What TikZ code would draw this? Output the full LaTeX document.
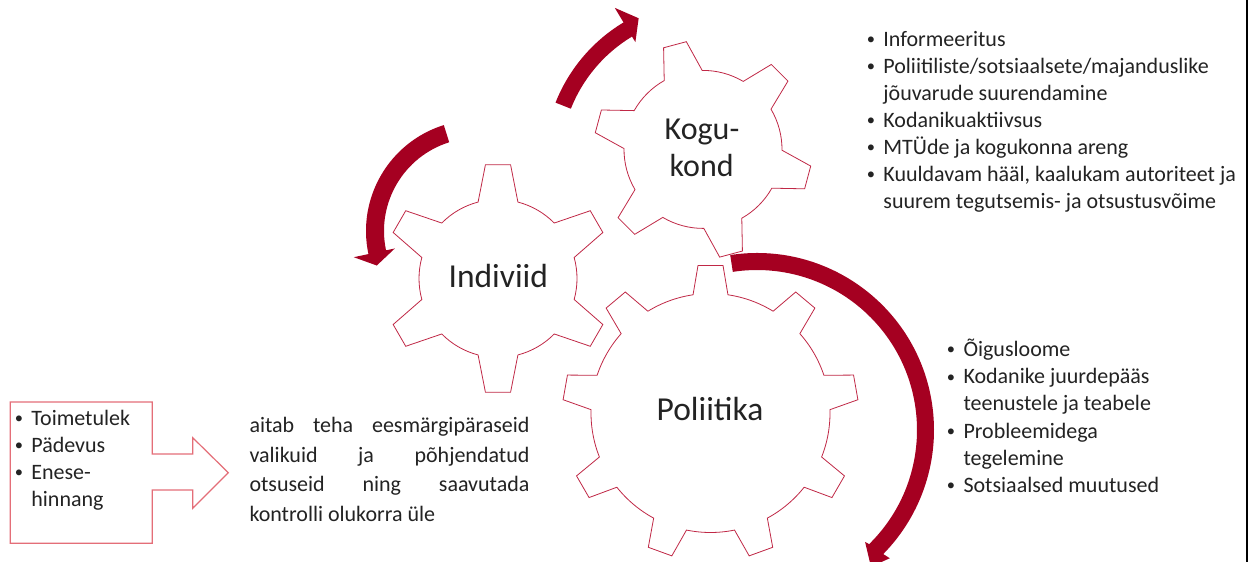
\documentclass[tikz,border=0pt]{standalone}
\usepackage{graphicx}
\usepackage{fontspec}
\setmainfont{Carlito}
\definecolor{arrowred}{RGB}{165,0,33}
\definecolor{gearcol}{RGB}{192,40,70}
\definecolor{boxcol}{RGB}{228,110,120}
\definecolor{txt}{RGB}{35,35,35}
\newcommand{\smallbullet}{\raisebox{1.8pt}{\scalebox{0.75}{•}}}
\newcommand{\bitem}[1]{\hbox{\makebox[0pt][c]{\smallbullet}\hspace{12.5pt}#1}}
\newcommand{\citem}[1]{\hbox{\hspace{12.5pt}#1}}
\newcommand{\drawgear}[8]{%
  \begin{scope}[shift={(#1,#2)}]
  \pgfmathsetmacro{\gearstepangle}{360/#5}
  \draw[gearline] ({#6-#7}:#3pt) \foreach \k in {1,...,#5} {
    -- ({#6+(\k-1)*\gearstepangle-#8}:#4pt) -- ({#6+(\k-1)*\gearstepangle+#8}:#4pt)
    -- ({#6+(\k-1)*\gearstepangle+#7}:#3pt)
    arc[start angle={#6+(\k-1)*\gearstepangle+#7}, end angle={#6+\k*\gearstepangle-#7}, radius=#3pt]
  } -- cycle;
  \end{scope}}
\tikzset{
  gearline/.style={draw=gearcol, line width=0.8pt, fill=white, line join=miter},
  arrowband/.style={fill=arrowred},
  bigtext/.style={inner sep=0pt, text=txt, anchor=base},
  smalltext/.style={inner sep=0pt, text=txt, anchor=base west, font=\fontsize{22}{26.9}\selectfont},
  calloutbox/.style={draw=boxcol, line width=1.2pt, fill=white, line join=miter}
}
\begin{document}
\begin{tikzpicture}[x=1pt, y=1pt]
\useasboundingbox (0,0) rectangle (1258,-562);
\clip (0,0) rectangle (1258,-562);
\fill[white] (0,0) rectangle (1258,-562);

% gears
\drawgear{498}{-278.5}{79}{114.5}{6}{90}{14.6}{6.3}
\drawgear{703}{-149.4}{79}{109}{6}{105}{14.4}{6.2}
\drawgear{710.5}{-413}{119.5}{148}{9}{90}{8.4}{4.85}

% arrows
\begin{scope}[shift={(477,-231)}]
\fill[arrowband] (107.4:111pt) arc[start angle=107.4, end angle=192, radius=111pt]
  -- (192:126pt) -- (199:106pt) -- (192:84pt) -- (192:93pt)
  arc[start angle=192, end angle=107.4, radius=93pt] -- cycle;
\end{scope}
\begin{scope}[shift={(708,-163)}]
\fill[arrowband] (158.4:164pt) arc[start angle=158.4, end angle=121, radius=164pt]
  -- (121:181pt) -- (115.6:160.5pt) -- (121:141pt) -- (121:147.5pt)
  arc[start angle=121, end angle=158.4, radius=147.5pt] -- cycle;
\end{scope}
\begin{scope}[shift={(757,-430)}]
\fill[arrowband] (98.7:177pt) arc[start angle=98.7, end angle=-44.5, radius=177pt]
  -- (-44:184.6pt) -- (-50.2:178pt) -- (-46:155.6pt) -- (-45.5:160pt)
  arc[start angle=-45.5, end angle=98.7, radius=160pt] -- cycle;
\end{scope}

% gear labels
\node[bigtext, font=\fontsize{33.5}{40}\selectfont] (indiviid) at (498.3,-287.3) {Indiviid};
\node[bigtext, font=\fontsize{33.5}{40}\selectfont] (poliitika) at (710,-420) {Poliitika};
\node[bigtext, font=\fontsize{32}{38}\selectfont] (kogu) at (702,-139.3) {Kogu-};
\node[bigtext, font=\fontsize{32}{38}\selectfont] (kond) at (701.7,-176.7) {kond};

% callout box with arrow
\coordinate (cb1) at (10.3,-402);
\coordinate (cb2) at (152.3,-543.3);
\draw[calloutbox] (cb1) -- (152.3,-402) -- (152.3,-454) -- (192.7,-454) -- (192.7,-437.7)
  -- (228.3,-472.7) -- (192.7,-508.3) -- (192.7,-490) -- (152.3,-490) -- (cb2)
  -- (10.3,-543.3) -- cycle;

% lists
\node[smalltext] (listleft) at (18.7,-425) {\vtop{\baselineskip=27.2pt
  \bitem{Toimetulek}
  \bitem{Pädevus}
  \bitem{Enese-}
  \citem{hinnang}}};

\node[smalltext] (listtop) at (870.7,-46.7) {\vtop{\baselineskip=26.9pt
  \bitem{Informeeritus}
  \bitem{Poliitiliste/sotsiaalsete/majanduslike}
  \citem{jõuvarude suurendamine}
  \bitem{Kodanikuaktiivsus}
  \bitem{MTÜde ja kogukonna areng}
  \bitem{Kuuldavam hääl, kaalukam autoriteet ja}
  \citem{suurem tegutsemis- ja otsustusvõime}}};

\node[smalltext] (listbottom) at (950.8,-356.7) {\vtop{\baselineskip=27.1pt
  \bitem{Õigusloome}
  \bitem{Kodanike juurdepääs}
  \citem{teenustele ja teabele}
  \bitem{Probleemidega}
  \citem{tegelemine}
  \bitem{Sotsiaalsed muutused}}};

\node[smalltext] (para) at (249.3,-432.3) {\vtop{\baselineskip=29.8pt
  \hbox to 280pt{aitab\hfill teha\hfill eesmärgipäraseid}
  \hbox to 280pt{valikuid\hfill ja\hfill põhjendatud}
  \hbox to 280pt{otsuseid\hfill ning\hfill saavutada}
  \hbox{kontrolli olukorra üle}}};

% right frame line
\draw[black, line width=2pt] (1247,0) -- (1247,-562);
\end{tikzpicture}
\end{document}
